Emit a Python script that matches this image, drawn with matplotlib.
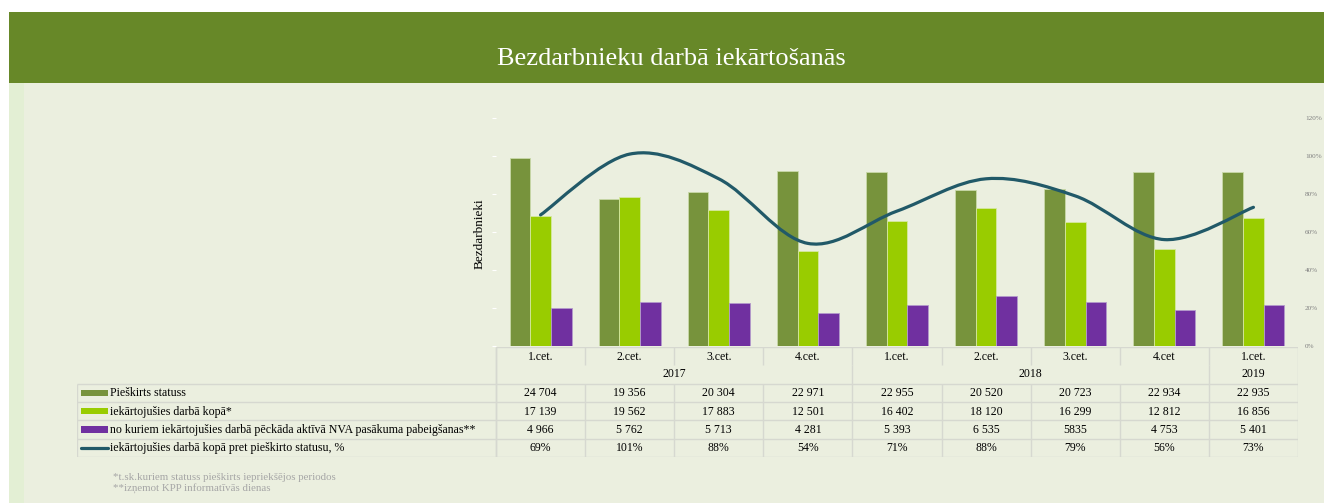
import matplotlib.pyplot as plt
from matplotlib.patches import Rectangle, PathPatch
from matplotlib.path import Path
import numpy as np

quarters = ['1.cet.', '2.cet.', '3.cet.', '4.cet.', '1.cet.', '2.cet.', '3.cet.', '4.cet', '1.cet.']
years = ['2017', '2018', '2019']
year_spans = [(0, 3), (4, 7), (8, 8)]

granted = [24704, 19356, 20304, 22971, 22955, 20520, 20723, 22934, 22935]
employed = [17139, 19562, 17883, 12501, 16402, 18120, 16299, 12812, 16856]
after_nva = [4966, 5762, 5713, 4281, 5393, 6535, 5835, 4753, 5401]
ratio = [0.69, 1.01, 0.88, 0.54, 0.71, 0.88, 0.79, 0.56, 0.73]

series_names = ['Pieškirts statuss',
                'iekārtojušies darbā kopā*',
                'no kuriem iekārtojušies darbā pēckāda aktīvā NVA pasākuma pabeigšanas**',
                'iekārtojušies darbā kopā pret pieškirto statusu, %']

c_dark = '#77933C'
c_light = '#99CC00'
c_purple = '#7030A0'
c_line = '#215968'
c_bg = '#EBEFDF'
c_grid = '#D6D8D0'

W, H = 1324, 503
fig = plt.figure(figsize=(W / 100, H / 100), dpi=100)
fig.patch.set_facecolor(c_bg)
plt.rcParams['font.family'] = ['Liberation Serif', 'DejaVu Serif']

def px(x0, y0, w, h):
    # pixel box (from top-left) -> figure fraction
    return [x0 / W, (H - y0 - h) / H, w / W, h / H]

# frame: white margins, green header, pale left strip
fig.add_artist(Rectangle((0, 0), 9 / W, 1, transform=fig.transFigure, color='white', lw=0))
fig.add_artist(Rectangle((0, 1 - 12 / H), 1, 12 / H, transform=fig.transFigure, color='white', lw=0))
fig.add_artist(Rectangle((9 / W, (H - 83) / H), 1, 71 / H, transform=fig.transFigure, color='#678828', lw=0))
fig.add_artist(Rectangle((9 / W, 0), 15 / W, (H - 83) / H, transform=fig.transFigure, color='#E3EFD4', lw=0))
fig.text(671 / W, 1 - 59 / H, 'Bezdarbnieku darbā iekārtošanās', color='white', fontsize=19,
         ha='center', va='center')

# main chart
ax = fig.add_axes(px(496, 118, 802, 228))
ax.set_facecolor('none')
x = np.arange(len(quarters))
bw = 0.232
ax.bar(x - bw, granted, bw, color=c_dark, edgecolor='#C9D9A8', linewidth=0.6, zorder=2)
ax.bar(x, employed, bw, color=c_light, edgecolor='#D5E8A0', linewidth=0.6, zorder=2)
ax.bar(x + bw, after_nva, bw, color=c_purple, edgecolor='#B49ACB', linewidth=0.6, zorder=2)
ax.set_xlim(-0.5, len(quarters) - 0.5)
ax.set_ylim(0, 30000)
ax.set_yticks(np.arange(0, 30001, 5000))
ax.set_yticklabels([])
ax.tick_params(axis='y', length=3, color='white', width=0.8)
ax.set_xticks([])
for s in ax.spines.values():
    s.set_visible(False)
fig.text(480 / W, 1 - 234 / H, 'Bezdarbnieki', rotation=90, fontsize=9.5, ha='center', va='center')

ax2 = ax.twinx()
ax2.set_ylim(0, 1.2)
ax2.set_yticks(np.arange(0, 1.21, 0.2))
ax2.set_yticklabels([f'{int(round(v * 100))}%' for v in np.arange(0, 1.21, 0.2)],
                    fontsize=5.2, color='#808080')
ax2.tick_params(axis='y', length=0, pad=5)
for s in ax2.spines.values():
    s.set_visible(False)

# smoothed line (Bezier through the data points)
pts = np.column_stack([x, ratio]).astype(float)
ext = np.vstack([pts[0], pts, pts[-1]])
verts = [tuple(pts[0])]
codes = [Path.MOVETO]
for i in range(len(pts) - 1):
    p0, p1, p2, p3 = ext[i], ext[i + 1], ext[i + 2], ext[i + 3]
    c1 = p1 + (p2 - p0) / 6
    c2 = p2 - (p3 - p1) / 6
    verts += [tuple(c1), tuple(c2), tuple(p2)]
    codes += [Path.CURVE4] * 3
ax2.add_patch(PathPatch(Path(verts, codes), facecolor='none', edgecolor=c_line, lw=2.3,
                        capstyle='round', zorder=3))

# data table below chart, columns aligned with the category axis
left_w = (496 - 77) / (802 / 9)
tab = fig.add_axes(px(77, 347, 1298 - 77, 110))
tab.set_xlim(-0.5 - left_w, len(quarters) - 0.5)
tab.set_ylim(6, 0)
tab.axis('off')
L = -0.5 - left_w
R = len(quarters) - 0.5
lk = dict(color=c_grid, lw=1.0, solid_capstyle='butt')
tab.plot([-0.5, R], [0, 0], **lk)
for r in range(2, 7):
    tab.plot([L, R], [r, r], **lk)
tab.plot([-0.5, -0.5], [0, 6], **lk)
tab.plot([L, L], [2, 6], **lk)
for i in range(len(quarters) + 1):
    b = i - 0.5
    tab.plot([b, b], [0, 1], **lk)
    tab.plot([b, b], [2, 6], **lk)
for a, b in year_spans:
    tab.plot([a - 0.5, a - 0.5], [1, 2], **lk)
tab.plot([R, R], [1, 2], **lk)

fs = 8.5
for i, q in enumerate(quarters):
    tab.text(i, 0.52, q, ha='center', va='center', fontsize=fs)
for yr, (a, b) in zip(years, year_spans):
    tab.text((a + b) / 2, 1.45, yr, ha='center', va='center', fontsize=fs)

def fmt(v):
    return f'{v:,}'.replace(',', ' ')

purple_text = [fmt(v) for v in after_nva]
purple_text[6] = '5835'
rows = [[fmt(v) for v in granted], [fmt(v) for v in employed], purple_text,
        [f'{int(round(v * 100))}%' for v in ratio]]
for r, vals in enumerate(rows):
    for i, t in enumerate(vals):
        tab.text(i, r + 2.52, t, ha='center', va='center', fontsize=fs)

u = 1 / (802 / 9)
for r, (name, col) in enumerate(zip(series_names, [c_dark, c_light, c_purple, c_line])):
    yc = r + 2.5
    if r < 3:
        tab.add_patch(Rectangle((L + 4 * u, yc - 0.17), 27 * u, 0.34, color=col, lw=0))
    else:
        tab.plot([L + 4 * u, L + 31 * u], [yc, yc], color=col, lw=2.3, solid_capstyle='round')
    tab.text(L + 33 * u, yc + 0.02, name, ha='left', va='center', fontsize=8.6)

fig.text(113 / W, 1 - 477 / H, '*t.sk.kuriem statuss pieškirts iepriekšējos periodos',
         fontsize=7.8, color='#A6A6A6', va='center')
fig.text(113 / W, 1 - 489 / H, '**izņemot KPP informatīvās dienas',
         fontsize=7.8, color='#A6A6A6', va='center')

fig.savefig('out.png', dpi=100, facecolor=fig.get_facecolor())
